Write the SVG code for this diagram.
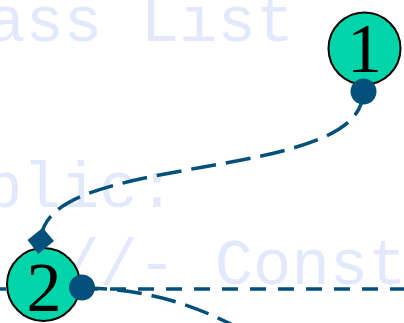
<svg xmlns="http://www.w3.org/2000/svg" width="404" height="323" viewBox="0 0 404 323">
<style>
.bg{font-family:"Liberation Mono","DejaVu Sans Mono",monospace;font-size:64px;fill:#e3e9fc}
.node circle{fill:#00d5a9;stroke:#000;stroke-width:2}
.node text{font-family:"Liberation Serif","Times New Roman",serif;font-size:70px;fill:#000;text-anchor:middle}
.conn{fill:none;stroke:#03507c;stroke-width:3.5}
.long{stroke-dasharray:25 10}
.short{stroke-dasharray:16 12}
.end{fill:#03507c}
</style>
<rect width="404" height="323" fill="#fff"/>
<g id="background-text">
<text class="bg" x="-13" y="41" xml:space="preserve">ass List</text>
<text class="bg" x="-16" y="207">blic:</text>
<text class="bg" x="61" y="284" xml:space="preserve">//- Const</text>
</g>
<g id="node-1" class="node">
<circle cx="364.5" cy="48.5" r="36"/>
<text x="364.5" y="72">1</text>
</g>
<g id="node-2" class="node">
<circle cx="43.5" cy="284.5" r="36.5"/>
<text x="44" y="311">2</text>
</g>
<g id="connectors">
<path class="conn long" d="M363 92 C363 185 41 150 41 241"/>
<path class="conn short" d="M82 289 L404 289"/>
<path class="conn long" d="M82 288 C150 289 200 305 260 340"/>
<path class="conn short" d="M-10 289 L7 289"/>
<circle class="end" cx="363.5" cy="91.5" r="13"/>
<circle class="end" cx="82" cy="287.5" r="13"/>
<polygon class="end" points="42.7,227.8 54,241 38.3,254 27.5,240"/>
</g>
</svg>
